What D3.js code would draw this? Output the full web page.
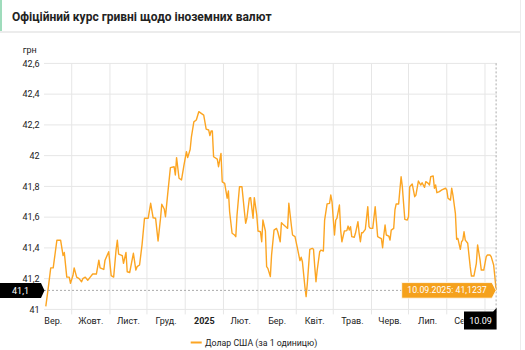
<!DOCTYPE html>
<html><head><meta charset="utf-8">
<script src="https://cdn.jsdelivr.net/npm/d3@7/dist/d3.min.js"></script>
<style>
html,body{margin:0;padding:0;background:#fff;}
svg{display:block;font-family:Roboto,"Noto Sans",Arial,sans-serif;}
</style></head>
<body><svg id="c" width="525" height="350"></svg>
<script>
const title = "Офіційний курс гривні щодо іноземних валют";
const unitLabel = "грн";
const seriesName = "Долар США (за 1 одиницю)";
const monthLabels = ["Вер.","Жовт.","Лист.","Груд.","2025","Лют.","Бер.","Квіт.","Трав.","Черв.","Лип.","Серп."];
const yTicks = [41, 41.2, 41.4, 41.6, 41.8, 42, 42.2, 42.4, 42.6];
const cursorDate = "2025-09-10";
const cursorLabelValue = "41,1";
const cursorDateLabel = "10.09";
const tooltipText = "10.09.2025: 41,1237";

const dates = [
"2024-09-10","2024-09-12","2024-09-14","2024-09-16","2024-09-17","2024-09-19","2024-09-22","2024-09-24","2024-09-25","2024-09-27",
"2024-09-29","2024-09-30","2024-10-02","2024-10-03","2024-10-05","2024-10-07","2024-10-09","2024-10-10","2024-10-12","2024-10-14",
"2024-10-16","2024-10-18","2024-10-21","2024-10-23","2024-10-24","2024-10-27","2024-10-28","2024-10-31","2024-11-02","2024-11-04",
"2024-11-06","2024-11-07","2024-11-08","2024-11-11","2024-11-12","2024-11-14","2024-11-15","2024-11-17","2024-11-20","2024-11-22",
"2024-11-23","2024-11-25","2024-11-27","2024-11-29","2024-12-02","2024-12-04","2024-12-06","2024-12-08","2024-12-10","2024-12-12",
"2024-12-13","2024-12-15","2024-12-16","2024-12-18","2024-12-20","2024-12-23","2024-12-24","2024-12-25","2024-12-27","2024-12-29",
"2024-12-31","2025-01-02","2025-01-03","2025-01-05","2025-01-06","2025-01-08","2025-01-10","2025-01-12","2025-01-14","2025-01-16",
"2025-01-18","2025-01-20","2025-01-21","2025-01-22","2025-01-23","2025-01-24","2025-01-27","2025-01-28","2025-01-30","2025-01-31",
"2025-02-02","2025-02-04","2025-02-05","2025-02-06","2025-02-08","2025-02-10","2025-02-11","2025-02-12","2025-02-14","2025-02-16",
"2025-02-18","2025-02-19","2025-02-20","2025-02-22","2025-02-23","2025-02-25","2025-02-26","2025-02-28","2025-03-01","2025-03-03",
"2025-03-04","2025-03-05","2025-03-07","2025-03-08","2025-03-09","2025-03-11","2025-03-12","2025-03-14","2025-03-16","2025-03-17",
"2025-03-19","2025-03-20","2025-03-21","2025-03-24","2025-03-25","2025-03-26","2025-03-28","2025-03-29","2025-03-31","2025-04-02",
"2025-04-04","2025-04-05","2025-04-06","2025-04-08","2025-04-09","2025-04-10","2025-04-12","2025-04-14","2025-04-15","2025-04-16",
"2025-04-17","2025-04-18","2025-04-20","2025-04-21","2025-04-23","2025-04-24","2025-04-26","2025-04-28","2025-04-29","2025-04-30",
"2025-05-02","2025-05-03","2025-05-04","2025-05-06","2025-05-07","2025-05-08","2025-05-10","2025-05-12","2025-05-13","2025-05-14",
"2025-05-15","2025-05-16","2025-05-18","2025-05-19","2025-05-21","2025-05-22","2025-05-23","2025-05-24","2025-05-25","2025-05-27",
"2025-05-29","2025-05-30","2025-05-31","2025-06-02","2025-06-04","2025-06-06","2025-06-07","2025-06-09","2025-06-10","2025-06-11",
"2025-06-12","2025-06-13","2025-06-15","2025-06-16","2025-06-17","2025-06-19","2025-06-20","2025-06-21","2025-06-23","2025-06-24",
"2025-06-25","2025-06-26","2025-06-27","2025-06-28","2025-06-30","2025-07-01","2025-07-02","2025-07-04","2025-07-06","2025-07-07",
"2025-07-09","2025-07-11","2025-07-12","2025-07-14","2025-07-15","2025-07-17","2025-07-18","2025-07-19","2025-07-21","2025-07-22",
"2025-07-23","2025-07-24","2025-07-26","2025-07-28","2025-07-31","2025-08-01","2025-08-02","2025-08-04","2025-08-05","2025-08-06",
"2025-08-08","2025-08-09","2025-08-10","2025-08-12","2025-08-13","2025-08-14","2025-08-15","2025-08-16","2025-08-18","2025-08-20",
"2025-08-21","2025-08-23","2025-08-25","2025-08-26","2025-08-28","2025-08-29","2025-08-31","2025-09-02","2025-09-03","2025-09-05",
"2025-09-06","2025-09-08","2025-09-09","2025-09-10"];

const usdRate = [
41.02,41.14,41.27,41.27,41.33,41.45,41.45,41.35,41.37,41.21,
41.21,41.17,41.22,41.27,41.21,41.20,41.18,41.20,41.21,41.19,
41.21,41.23,41.23,41.32,41.27,41.26,41.32,41.375,41.22,41.21,
41.39,41.45,41.36,41.35,41.30,41.37,41.245,41.24,41.365,41.256,
41.278,41.289,41.42,41.593,41.593,41.69,41.596,41.593,41.445,41.593,
41.684,41.653,41.603,41.766,41.922,41.928,41.874,41.987,41.853,41.842,
41.939,42.026,41.987,42.04,42.12,42.22,42.232,42.286,42.275,42.264,
42.173,42.167,42.13,42.16,42.16,41.993,41.978,41.928,42.015,41.83,
41.82,41.723,41.77,41.635,41.495,41.484,41.473,41.614,41.798,41.798,
41.635,41.56,41.593,41.723,41.727,41.593,41.727,41.614,41.51,41.505,
41.44,41.581,41.51,41.278,41.267,41.213,41.354,41.516,41.527,41.505,
41.44,41.564,41.555,41.534,41.527,41.69,41.549,41.484,41.473,41.397,
41.317,41.339,41.31,41.148,41.083,41.17,41.391,41.397,41.391,41.278,
41.18,41.256,41.375,41.386,41.38,41.581,41.686,41.69,41.744,41.70,
41.484,41.581,41.593,41.679,41.516,41.44,41.51,41.512,41.542,41.516,
41.538,41.473,41.469,41.495,41.571,41.495,41.44,41.499,41.499,41.521,
41.668,41.538,41.527,41.527,41.668,41.473,41.469,41.46,41.401,41.484,
41.549,41.484,41.477,41.451,41.516,41.527,41.647,41.686,41.686,41.777,
41.863,41.798,41.69,41.586,41.581,41.603,41.798,41.816,41.733,41.744,
41.835,41.809,41.824,41.794,41.831,41.82,41.809,41.863,41.868,41.788,
41.809,41.759,41.766,41.777,41.788,41.777,41.723,41.711,41.788,41.744,
41.625,41.456,41.462,41.391,41.44,41.451,41.505,41.451,41.43,41.278,
41.217,41.217,41.30,41.419,41.321,41.256,41.256,41.343,41.354,41.354,
41.343,41.289,41.213,41.1237];

const parse = d3.utcParse("%Y-%m-%d");
const data = dates.map((d,i)=>({date:parse(d), value:usdRate[i]}));

const svg = d3.select("#c");
const plotL = 44, plotR = 497, plotT = 63.4, plotB = 309.4;
const axisFont = 9, smallFont = 8.75;

// header
svg.append("rect").attr("x",0).attr("y",0).attr("width",521).attr("height",31).attr("fill","#fff");
svg.append("rect").attr("x",0).attr("y",0).attr("width",2).attr("height",31).attr("fill","#9fdcbc");
svg.append("rect").attr("x",0).attr("y",31).attr("width",521).attr("height",2).attr("fill","#ececec");
svg.append("rect").attr("x",520).attr("y",0).attr("width",1).attr("height",350).attr("fill","#ececec");
svg.append("text").attr("x",12).attr("y",20.5).attr("font-size",12).attr("font-weight","bold")
  .attr("fill","#222").text(title);

const x = d3.scaleUtc().domain([parse("2024-09-10"), parse("2025-09-10")]).range([45.8, 496.1]);
const y = d3.scaleLinear().domain([41, 42.6]).range([plotB, plotT]);

// grid
const fmt = v => String(+v.toFixed(1)).replace(".", ",");
svg.append("g").selectAll("line").data(yTicks).join("line")
  .attr("x1",plotL).attr("x2",plotR).attr("y1",d=>y(d)).attr("y2",d=>y(d))
  .attr("stroke","#e6e6e6").attr("stroke-width",1);
const monthStarts = d3.utcMonth.range(parse("2024-10-01"), parse("2025-09-02"));
svg.append("g").selectAll("line").data(monthStarts).join("line")
  .attr("x1",d=>x(d)).attr("x2",d=>x(d)).attr("y1",plotT).attr("y2",plotB+5)
  .attr("stroke","#e6e6e6").attr("stroke-width",1);

// y labels
svg.append("g").selectAll("text").data(yTicks).join("text")
  .attr("x",39.5).attr("y",d=>y(d)).attr("dy","0.35em").attr("text-anchor","end")
  .attr("font-size",axisFont).attr("fill","#222").text(fmt);
svg.append("text").attr("x",22.7).attr("y",53).attr("font-size",axisFont).attr("fill","#222").text(unitLabel);

// clip so the last month label is hidden under the date cursor box, as in the reference
svg.append("clipPath").attr("id","xlab").append("rect").attr("x",0).attr("y",300).attr("width",463.5).attr("height",40);

// x labels (centered in month cells)
const allMonths = d3.utcMonth.range(parse("2024-09-01"), parse("2025-09-01"));
svg.append("g").attr("clip-path","url(#xlab)").selectAll("text").data(allMonths).join("text")
  .attr("x",d=>(x(d)+x(d3.utcMonth.offset(d,1)))/2).attr("y",323.5)
  .attr("text-anchor","middle").attr("font-size",axisFont).attr("fill","#222")
  .attr("font-weight",(d,i)=>monthLabels[i]==="2025"?"bold":"normal")
  .text((d,i)=>monthLabels[i]);

// line
svg.append("path").datum(data)
  .attr("d", d3.line().x(d=>x(d.date)).y(d=>y(d.value)))
  .attr("fill","none").attr("stroke","#fca522").attr("stroke-width",1.4).attr("stroke-linejoin","round");

// cursor
const last = data[data.length-1];
const cx = x(parse(cursorDate)), cy = y(last.value);
svg.append("line").attr("x1",plotL).attr("x2",cx).attr("y1",cy).attr("y2",cy)
  .attr("stroke","#aaa").attr("stroke-dasharray","2,2").attr("stroke-width",1);
svg.append("line").attr("x1",cx).attr("x2",cx).attr("y1",plotT).attr("y2",plotB+3)
  .attr("stroke","#aaa").attr("stroke-dasharray","2,2").attr("stroke-width",1);

// y cursor tooltip
svg.append("path").attr("d",`M0,${cy-7.5} H41 L44.5,${cy} L41,${cy+7.5} H0 Z`).attr("fill","#000");
svg.append("text").attr("x",20.5).attr("y",cy).attr("dy","0.35em").attr("text-anchor","middle")
  .attr("font-size",axisFont).attr("fill","#fff").text(cursorLabelValue);

// x cursor tooltip
svg.append("path").attr("d",`M464,311.5 H${cx-3} L${cx+0.5},308 V329.5 H464 Z`).attr("fill","#000");
svg.append("text").attr("x",480.5).attr("y",320.5).attr("dy","0.35em").attr("text-anchor","middle")
  .attr("font-size",axisFont).attr("fill","#fff").text(cursorDateLabel);

// series tooltip
const tb = svg.append("g");
tb.append("path").attr("d",`M401.7,${cy-7.8} H492 L${cx},${cy} L492,${cy+7.8} H401.7 Z`)
  .attr("fill","#f5a11c").attr("stroke","#fff").attr("stroke-width",0.8);
tb.append("text").attr("x",447).attr("y",cy).attr("dy","0.35em").attr("text-anchor","middle")
  .attr("font-size",smallFont).attr("fill","#fff").text(tooltipText);

// legend
svg.append("line").attr("x1",190.7).attr("x2",201.7).attr("y1",342.5).attr("y2",342.5)
  .attr("stroke","#fca522").attr("stroke-width",2);
svg.append("text").attr("x",205).attr("y",342.5).attr("dy","0.35em")
  .attr("font-size",smallFont).attr("fill","#222").text(seriesName);
</script></body></html>
